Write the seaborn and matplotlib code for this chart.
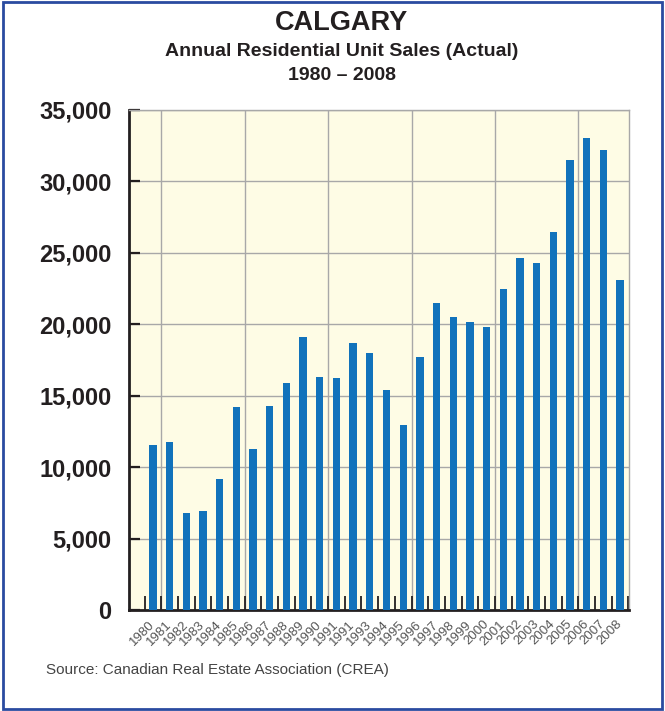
import matplotlib
matplotlib.use("Agg")
import matplotlib.pyplot as plt
import seaborn as sns
import pandas as pd
import numpy as np
from matplotlib.patches import Rectangle
from matplotlib.ticker import FuncFormatter

# ---- data ----
years = [str(y) for y in range(1980, 2009)]
tick_labels = ["1980", "1981", "1982", "1983", "1984", "1985", "1986", "1987",
               "1988", "1989", "1990", "1991", "1991", "1993", "1994", "1995",
               "1996", "1997", "1998", "1999", "2000", "2001", "2002", "2003",
               "2004", "2005", "2006", "2007", "2008"]
sales = [11560, 11770, 6800, 6940, 9180, 14230, 11280, 14300, 15910, 19130,
         16330, 16260, 18710, 18010, 15420, 12960, 17730, 21510, 20530, 20180,
         19830, 22490, 24670, 24320, 26490, 31530, 33010, 32170, 23130]
y_ticks = [0, 5000, 10000, 15000, 20000, 25000, 30000, 35000]

title = "CALGARY"
subtitle = "Annual Residential Unit Sales (Actual)"
period = "1980 \u2013 2008"
source = "Source: Canadian Real Estate Association (CREA)"

# ---- style ----
sns.set_style("white")
plt.rcParams['font.family'] = ['Liberation Sans', 'DejaVu Sans']

W, H = 665, 711
fig = plt.figure(figsize=(W / 100, H / 100), dpi=100)
ax = fig.add_axes([129 / W, 1 - 610 / H, 500 / W, 500 / H])
ax.set_facecolor('#FEFCE5')

df = pd.DataFrame({"year": years, "sales": sales})
sns.barplot(data=df, x="year", y="sales", order=years, color="#1172BB",
            saturation=1, width=0.44, linewidth=0, ax=ax, zorder=3)

grid_c = '#A8A8A8'
ax.set_axisbelow(True)
ax.set_ylim(0, 35000)
ax.set_xlim(-1.44, 28.54)
ax.set_yticks(y_ticks)
ax.yaxis.set_major_formatter(FuncFormatter(lambda v, p: f"{int(v):,}"))
ax.yaxis.grid(True, color=grid_c, lw=1.0, zorder=0)
ax.xaxis.grid(False)
for xv in np.arange(0.5, len(years), 5):
    ax.axvline(xv, color=grid_c, lw=1.0, zorder=0)

ax.tick_params(axis='y', direction='in', length=8, width=1.6, color='#231F20',
               labelsize=17, pad=12.5, labelcolor='#231F20', left=True)
for lbl in ax.get_yticklabels():
    lbl.set_fontweight('bold')

ax.set_xticks(range(len(years)))
ax.set_xticklabels(tick_labels, rotation=45, ha='right', va='center',
                   rotation_mode='anchor', fontsize=9.5, color='#555555')
ax.tick_params(axis='x', which='major', length=0, pad=9)
ax.set_xticks(np.arange(-0.5, len(years), 1), minor=True)
ax.tick_params(axis='x', which='minor', direction='in', length=10, width=1.3,
               color='#231F20', bottom=True)

ax.set_xlabel("")
ax.set_ylabel("")
for s in ['left', 'bottom']:
    ax.spines[s].set_color('#231F20')
    ax.spines[s].set_linewidth(2.0)
for s in ['top', 'right']:
    ax.spines[s].set_color(grid_c)
    ax.spines[s].set_linewidth(1.0)

cx = 342 / W
fig.text(cx, 1 - 23 / H, title, ha='center', va='center', fontsize=19.5,
         fontweight='bold', color='#231F20')
fig.text(cx, 1 - 52 / H, subtitle, ha='center', va='center', fontsize=14,
         fontweight='bold', color='#231F20')
fig.text(cx, 1 - 75 / H, period, ha='center', va='center', fontsize=14,
         fontweight='bold', color='#231F20')
fig.text(46 / W, 1 - 670 / H, source, ha='left', va='center', fontsize=11,
         color='#444444')

fig.add_artist(Rectangle((0.004, 0.003), 0.992, 0.994, transform=fig.transFigure,
                         fill=False, edgecolor='#2A4BA0', lw=2))

fig.savefig('out.png', dpi=100)
